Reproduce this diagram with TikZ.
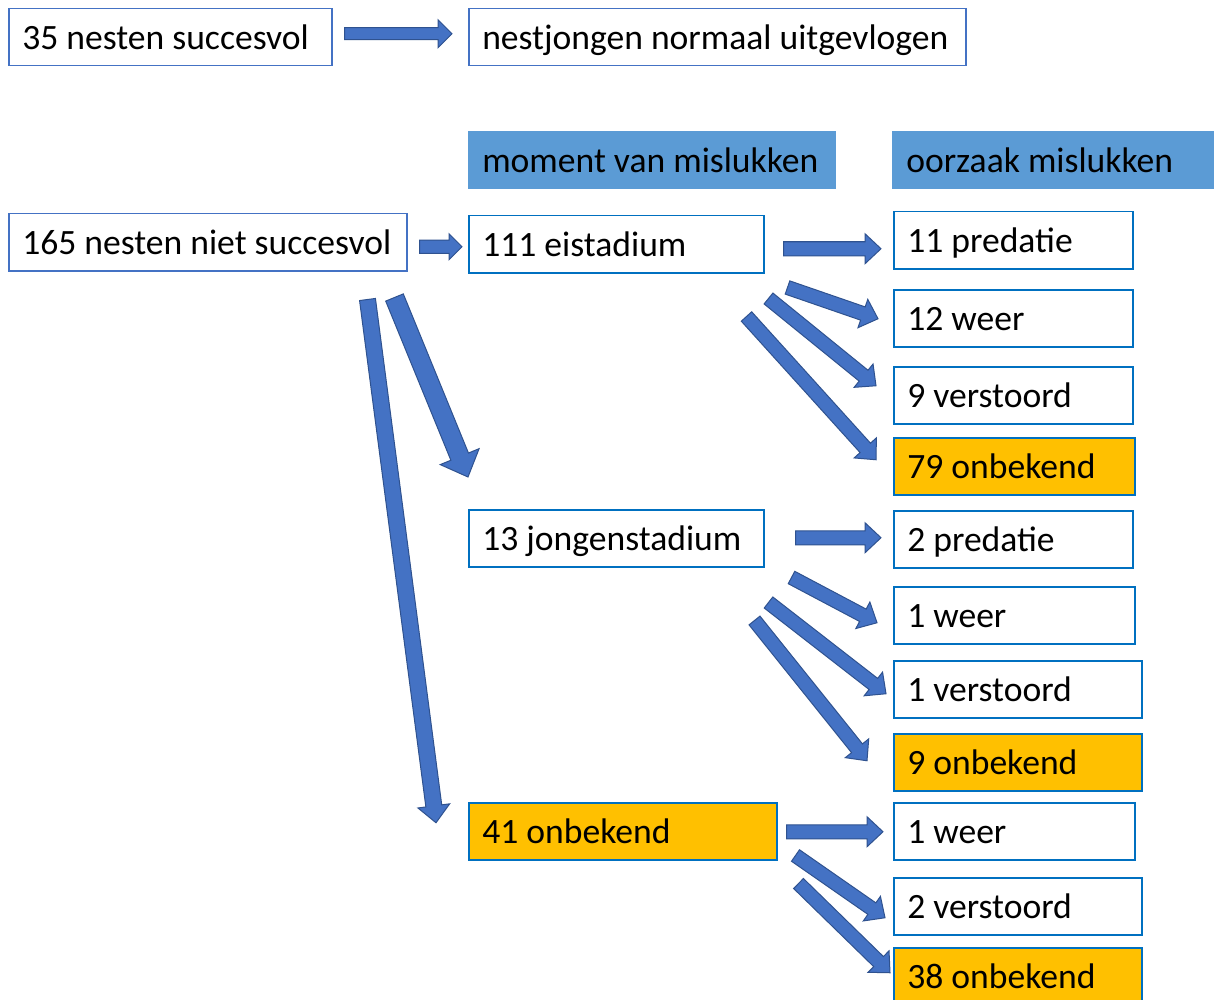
\documentclass[tikz,border=0pt]{standalone}
\usepackage{fontspec}
\setmainfont{Carlito}
\usetikzlibrary{calc}
\hyphenpenalty=10000
\definecolor{kaderA}{HTML}{4472C4}
\definecolor{kaderB}{HTML}{0070C0}
\definecolor{kopblauw}{HTML}{5B9BD5}
\definecolor{oranje}{HTML}{FFC000}
\definecolor{pijlblauw}{HTML}{4472C4}
\definecolor{pijlrand}{HTML}{2F528F}
% block arrow: tail, tip, half shaft, half head, head length
\newcommand\blokpijl[5]{\draw[pijl] let \p1=(#1),\p2=(#2),\n1={atan2(\y2-\y1,\x2-\x1)} in ($(\p1)+(\n1+90:#3)$)--($(\p2)+(\n1+180:#5)+(\n1+90:#3)$)--($(\p2)+(\n1+180:#5)+(\n1+90:#4)$)--(\p2)--($(\p2)+(\n1+180:#5)+(\n1-90:#4)$)--($(\p2)+(\n1+180:#5)+(\n1-90:#3)$)--($(\p1)+(\n1-90:#3)$)--cycle;}
\begin{document}
\begin{tikzpicture}[x=1pt,y=-1pt,box/.style={draw=kaderB,line width=1.5pt,fill=white,anchor=north west,inner xsep=10pt,inner ysep=0pt,minimum height=57pt,align=flush left,text height=27pt,text depth=3pt,font=\fontsize{35.6}{40}\selectfont,execute at begin node={\noindent\hskip3.5pt\relax}},boxA/.style={box,draw=kaderA},kop/.style={box,draw=kopblauw,fill=kopblauw},oranjebox/.style={box,fill=oranje},pijl/.style={fill=pijlblauw,draw=pijlrand,line width=1pt,line join=miter}]
\useasboundingbox[fill=white](0,0) rectangle (1214,1000);
\node[boxA,text width=303pt] (s35) at (8,8) {35 nesten succesvol};
\node[boxA,text width=477pt] (uitg) at (468,8) {nestjongen normaal uitgevlogen};
\node[kop,text width=346pt] (hmom) at (468,131) {moment van mislukken};
\node[kop,text width=310pt] (hoorz) at (892,131) {oorzaak mislukken};
\node[boxA,text width=378pt] (n165) at (8,213) {165 nesten niet succesvol};
\node[box,text width=275pt] (eist) at (468,215) {111 eistadium};
\node[box,text width=219pt] (e11) at (893,211) {11 predatie};
\node[box,text width=219pt] (e12) at (893,289) {12 weer};
\node[box,text width=219pt] (e9) at (893,366) {9 verstoord};
\node[oranjebox,text width=221pt] (e79) at (893,437) {79 onbekend};
\node[box,text width=275pt] (jong) at (468,509) {13 jongenstadium};
\node[box,text width=219pt] (j2) at (893,510) {2 predatie};
\node[box,text width=221pt] (j1w) at (893,586) {1 weer};
\node[box,text width=228pt] (j1v) at (893,660) {1 verstoord};
\node[oranjebox,text width=228pt] (j9) at (893,733) {9 onbekend};
\node[oranjebox,text width=288pt] (onb41) at (468,802) {41 onbekend};
\node[box,text width=221pt] (o1w) at (893,802) {1 weer};
\node[box,text width=228pt] (o2v) at (893,877) {2 verstoord};
\node[oranjebox,text width=228pt] (o38) at (893,947) {38 onbekend};
\blokpijl{$(s35.east)+(12,-3.5)$}{$(uitg.west)+(-16,-3.5)$}{6pt}{14pt}{14pt}
\blokpijl{$(n165.east)+(12,4.5)$}{$(eist.west)+(-6,2.5)$}{6.5pt}{13pt}{13pt}
\blokpijl{$(eist.east)+(19,4.5)$}{$(e11.west)+(-12,8.5)$}{7pt}{15pt}{16pt}
\blokpijl{$(eist.south east)+(23,14)$}{$(e12.west)+(-15,0.5)$}{7pt}{15pt}{16pt}
\blokpijl{$(eist.south east)+(4,25)$}{$(e9.west)+(-17,-9.5)$}{7pt}{15pt}{16pt}
\blokpijl{$(eist.south east)+(-18,43)$}{$(e79.west)+(-17,-6.5)$}{7pt}{15pt}{16pt}
\blokpijl{$(n165.south east)+(-13,26)$}{$(jong.north west)+(0,-32)$}{9.5pt}{21pt}{22pt}
\blokpijl{$(n165.south east)+(-40,28)$}{$(onb41.west)+(-32,-8.5)$}{8pt}{16pt}{17pt}
\blokpijl{$(jong.east)+(31,-0.5)$}{$(j2.west)+(-12,-1.5)$}{7pt}{15pt}{16pt}
\blokpijl{$(jong.south east)+(27,10)$}{$(j1w.west)+(-16,7.5)$}{7pt}{15pt}{16pt}
\blokpijl{$(jong.south east)+(4,35)$}{$(j1v.west)+(-7,4.5)$}{7pt}{15pt}{16pt}
\blokpijl{$(jong.south east)+(-10,53)$}{$(j9.west)+(-26,-1.5)$}{7pt}{15pt}{16pt}
\blokpijl{$(onb41.east)+(9,0.5)$}{$(o1w.west)+(-10,0.5)$}{7pt}{15pt}{16pt}
\blokpijl{$(onb41.south east)+(18,-5)$}{$(o2v.west)+(-8,11.5)$}{7pt}{15pt}{16pt}
\blokpijl{$(onb41.south east)+(21,23)$}{$(o38.west)+(-3,-3.5)$}{7pt}{15pt}{16pt}
\end{tikzpicture}
\end{document}
